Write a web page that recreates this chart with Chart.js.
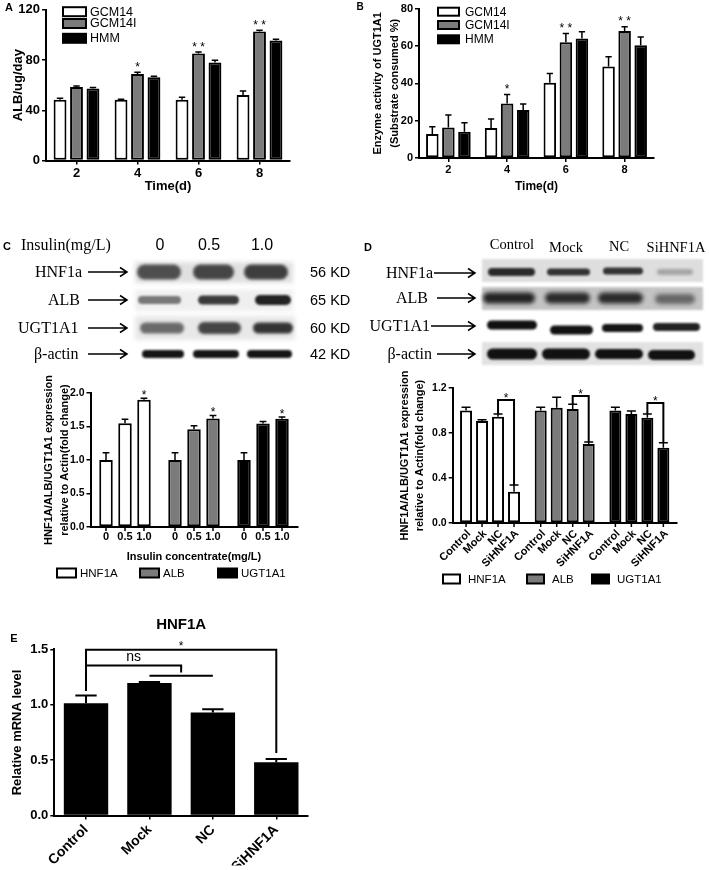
<!DOCTYPE html>
<html>
<head>
<meta charset="utf-8">
<title>HNF1A figure</title>
<script src="https://cdn.jsdelivr.net/npm/chart.js"></script>
<style>
  body { margin: 0; background: #fff; }
  #page { position: relative; width: 709px; height: 870px; overflow: hidden; background: #fff; }
  #page canvas { position: absolute; left: 0; top: 0; }
  .t { position: absolute; white-space: nowrap; color: #000; line-height: 1; }
  .serif { font-family: "Liberation Serif", "Times New Roman", serif; }
  .sans { font-family: "Liberation Sans", Arial, sans-serif; }
</style>
</head>
<body>
<div id="page">
  <canvas id="blots" width="709" height="870"></canvas>
  <canvas id="chartA" width="709" height="870"></canvas>
  <canvas id="chartB" width="709" height="870"></canvas>
  <canvas id="chartC" width="709" height="870"></canvas>
  <canvas id="chartD" width="709" height="870"></canvas>
  <canvas id="chartE" width="709" height="870"></canvas>
</div>
<script>
// ---- data ----
const days = ['2', '4', '6', '8'];
const albGCM14 = [48.3, 48.3, 48.3, 52.2];
const albGCM14Err = [1.2, 0.4, 2.0, 3.1];
const albGCM14I = [58.6, 68.9, 85.3, 102.8];
const albGCM14IErr = [0.8, 1.3, 1.0, 1.0];
const albHMM = [57.4, 66.3, 78.0, 95.5];
const albHMMErr = [0.8, 0.8, 1.8, 1.0];
const albStars = ['', '*', '* *', '* *'];

const ugtGCM14 = [12.8, 16.0, 40.3, 49.0];
const ugtGCM14Err = [4.0, 4.9, 5.0, 5.2];
const ugtGCM14I = [16.3, 29.2, 62.0, 68.0];
const ugtGCM14IErr = [6.7, 4.8, 4.6, 2.3];
const ugtHMM = [14.1, 25.7, 64.0, 60.4];
const ugtHMMErr = [4.8, 3.2, 3.6, 4.4];
const ugtStars = ['', '*', '* *', '* *'];

const proteins = ['HNF1A', 'ALB', 'UGT1A1'];
const doses = ['0', '0.5', '1.0'];
const insHNF1A = [1.0, 1.55, 1.90];
const insHNF1AErr = [0.11, 0.06, 0.02];
const insALB = [1.0, 1.46, 1.62];
const insALBErr = [0.11, 0.05, 0.045];
const insUGT1A1 = [1.0, 1.545, 1.615];
const insUGT1A1Err = [0.11, 0.03, 0.025];

const groups = ['Control', 'Mock', 'NC', 'SiHNF1A'];
const kdHNF1A = [1.0, 0.907, 0.945, 0.278];
const kdHNF1AErr = [0.03, 0.011, 0.025, 0.06];
const kdALB = [1.0, 1.025, 1.013, 0.702];
const kdALBErr = [0.03, 0.092, 0.042, 0.018];
const kdUGT1A1 = [1.0, 0.969, 0.936, 0.669];
const kdUGT1A1Err = [0.03, 0.027, 0.034, 0.045];
const kdBracket = [1.093, 1.129, 1.067];   // NC vs SiHNF1A bracket level

const mrna = [1.014, 1.195, 0.93, 0.481];
const mrnaErr = [0.07, 0.01, 0.03, 0.03];

// ---- setup ----
const F = '"Liberation Sans", Arial, sans-serif';
const GRAY = '#7b7b7b';
const W = 709, H = 870;
Chart.defaults.font.family = F;
Chart.defaults.color = '#000';
Chart.defaults.animation = false;
Chart.defaults.responsive = false;
Chart.defaults.plugins.legend.display = false;
Chart.defaults.plugins.tooltip.enabled = false;

// chart area [left, top, right, bottom] in page pixels
function place(a, yw, xh) {
  return { left: a[0] - yw, top: a[1], right: W - a[2], bottom: H - a[3] - xh };
}

function yAxis(o) {
  return {
    min: o.min, max: o.max,
    ticks: { stepSize: o.step, font: { size: o.fs, weight: 'bold' }, padding: 2,
             callback: o.fmt || (v => v) },
    grid: { drawOnChartArea: false, tickLength: 4, color: '#000', lineWidth: 1.5 },
    border: { color: '#000', width: 2 },
    title: { display: !!o.title, text: o.title || '', padding: 0,
             font: { size: o.tfs, weight: 'bold', lineHeight: o.tlh || 1.2 } },
    afterFit: s => { s.width = o.w; }
  };
}

function xAxis(o) {
  return {
    ticks: { display: o.ticks !== false, font: { size: o.fs, weight: 'bold' }, padding: o.pad || 1,
             minRotation: o.rot || 0, maxRotation: o.rot || 0 },
    grid: { display: o.grid !== false, offset: false, drawOnChartArea: false, tickLength: 4,
            color: '#000', lineWidth: 1.5 },
    border: { color: '#000', width: 2 },
    title: { display: !!o.title, text: o.title || '', padding: 0, font: { size: o.tfs, weight: 'bold' } },
    afterFit: s => { s.height = o.h; }
  };
}

function errTop(chart, i, j) {
  const ds = chart.data.datasets[i];
  return chart.scales.y.getPixelForValue(ds.data[j] + ds.errors[j]);
}

function errorBars(capFrac, lw) {
  return { id: 'errorBars', afterDatasetsDraw(chart) {
    const ctx = chart.ctx;
    ctx.save(); ctx.strokeStyle = '#000'; ctx.lineWidth = lw;
    chart.data.datasets.forEach((ds, i) => {
      chart.getDatasetMeta(i).data.forEach((bar, j) => {
        const top = errTop(chart, i, j);
        const half = bar.width * capFrac / 2;
        ctx.beginPath();
        ctx.moveTo(bar.x, bar.y); ctx.lineTo(bar.x, top);
        ctx.moveTo(bar.x - half, top); ctx.lineTo(bar.x + half, top);
        ctx.stroke();
      });
    });
    ctx.restore();
  }};
}

function stars(dsIndex, marks, fs, off) {
  return { id: 'stars', afterDatasetsDraw(chart) {
    const ctx = chart.ctx;
    ctx.save();
    ctx.font = fs + 'px ' + F; ctx.textAlign = 'center'; ctx.textBaseline = 'alphabetic'; ctx.fillStyle = '#000';
    chart.getDatasetMeta(dsIndex).data.forEach((bar, j) => {
      if (marks[j]) ctx.fillText(marks[j], bar.x, errTop(chart, dsIndex, j) - off + 0.58 * fs);
    });
    ctx.restore();
  }};
}

function boxLegend(items, o) {
  return { id: 'boxLegend', afterDraw(chart) {
    const ctx = chart.ctx;
    ctx.save();
    ctx.font = o.fs + 'px ' + F; ctx.textBaseline = 'middle'; ctx.textAlign = 'left';
    items.forEach((it, k) => {
      const [x, y] = o.pos[k];
      ctx.fillStyle = it.color; ctx.fillRect(x, y - o.bh / 2, o.bw, o.bh);
      ctx.strokeStyle = '#000'; ctx.lineWidth = 2; ctx.strokeRect(x, y - o.bh / 2, o.bw, o.bh);
      ctx.fillStyle = '#000'; ctx.fillText(it.label, x + o.bw + o.gap, y + 0.5);
    });
    ctx.restore();
  }};
}

// long two-line y titles: chart.js would squeeze them to the axis height
function sideTitle(lines, offs, fs) {
  return { id: 'sideTitle', afterDraw(chart) {
    const ctx = chart.ctx, a = chart.chartArea, yc = (a.top + a.bottom) / 2;
    ctx.save();
    ctx.font = 'bold ' + fs + 'px ' + F; ctx.fillStyle = '#000';
    ctx.textAlign = 'center'; ctx.textBaseline = 'middle';
    lines.forEach((s, k) => {
      ctx.save(); ctx.translate(a.left - offs[k], yc); ctx.rotate(-Math.PI / 2);
      ctx.fillText(s, 0, 0); ctx.restore();
    });
    ctx.restore();
  }};
}

const barColors = ['#fff', GRAY, '#000'];
function timeSet(label, data, errors, k) {
  return { label, data, errors, backgroundColor: barColors[k], borderColor: '#000', borderWidth: 2 };
}

// ---- A ----
const areaA = [46, 7.5, 290, 160.5];
new Chart(document.getElementById('chartA'), {
  type: 'bar',
  data: { labels: days, datasets: [
    timeSet('GCM14', albGCM14, albGCM14Err, 0),
    timeSet('GCM14I', albGCM14I, albGCM14IErr, 1),
    timeSet('HMM', albHMM, albHMMErr, 2)
  ]},
  options: {
    layout: { padding: place(areaA, 35, 33.5) },
    datasets: { bar: { categoryPercentage: 0.81, barPercentage: 0.78, borderSkipped: false } },
    scales: {
      x: xAxis({ fs: 13, title: 'Time(d)', tfs: 13, h: 33.5 }),
      y: yAxis({ min: 0, max: 120, step: 40, fs: 13, title: 'ALB/ug/day', tfs: 13, w: 35 })
    }
  },
  plugins: [errorBars(0.5, 1.5), stars(1, albStars, 12, 8.5),
    boxLegend([{ label: 'GCM14', color: '#fff' }, { label: 'GCM14I', color: GRAY }, { label: 'HMM', color: '#000' }],
      { fs: 12.5, bw: 23, bh: 9, gap: 4, pos: [[63, 11.7], [63, 23.5], [63, 38.3]] })]
});

// ---- B ----
const areaB = [419, 8, 654, 158];
new Chart(document.getElementById('chartB'), {
  type: 'bar',
  data: { labels: days, datasets: [
    timeSet('GCM14', ugtGCM14, ugtGCM14Err, 0),
    timeSet('GCM14I', ugtGCM14I, ugtGCM14IErr, 1),
    timeSet('HMM', ugtHMM, ugtHMMErr, 2)
  ]},
  options: {
    layout: { padding: place(areaB, 49.5, 35.7) },
    datasets: { bar: { categoryPercentage: 0.82, barPercentage: 0.78, borderSkipped: false } },
    scales: {
      x: xAxis({ fs: 11, title: 'Time(d)', tfs: 12, h: 35.7 }),
      y: yAxis({ min: 0, max: 80, step: 20, fs: 11, tfs: 11, tlh: 1.55, w: 49.5,
                 title: ['Enzyme activity of UGT1A1', '(Substrate consumed %)'] })
    }
  },
  plugins: [errorBars(0.5, 1.5), stars(1, ugtStars, 12, 8.5),
    boxLegend([{ label: 'GCM14', color: '#fff' }, { label: 'GCM14I', color: GRAY }, { label: 'HMM', color: '#000' }],
      { fs: 12, bw: 21, bh: 8, gap: 6, pos: [[438, 11.7], [438, 25], [438, 39.3]] })]
});

// ---- C ----
const insByProtein = [insHNF1A, insALB, insUGT1A1];
const insErrByProtein = [insHNF1AErr, insALBErr, insUGT1A1Err];
const legendItems = proteins.map((p, k) => ({ label: p, color: barColors[k] }));
const foldTitle = ['HNF1A/ALB/UGT1A1 expression', 'relative to Actin(fold change)'];

const subLabels = (rotate, fs, dy) => ({ id: 'subLabels', afterDraw(chart) {
  const ctx = chart.ctx, yb = chart.chartArea.bottom;
  ctx.save(); ctx.strokeStyle = '#000'; ctx.fillStyle = '#000'; ctx.lineWidth = 1.5;
  ctx.font = 'bold ' + fs + 'px ' + F;
  chart.data.datasets.forEach((ds, i) => {
    chart.getDatasetMeta(i).data.forEach(bar => {
      ctx.beginPath(); ctx.moveTo(bar.x, yb); ctx.lineTo(bar.x, yb + 4); ctx.stroke();
      ctx.save();
      if (rotate) {
        ctx.translate(bar.x + 3, yb + dy); ctx.rotate(-Math.PI / 4);
        ctx.textAlign = 'right'; ctx.textBaseline = 'middle';
      } else {
        ctx.translate(bar.x, yb + dy);
        ctx.textAlign = 'center'; ctx.textBaseline = 'middle';
      }
      ctx.fillText(ds.label, 0, 0);
      ctx.restore();
    });
  });
  ctx.restore();
}});

const areaC = [90.5, 393, 297.5, 527];
new Chart(document.getElementById('chartC'), {
  type: 'bar',
  data: { labels: proteins, datasets: doses.map((d, i) => ({
    label: d,
    data: insByProtein.map(arr => arr[i]),
    errors: insErrByProtein.map(arr => arr[i]),
    backgroundColor: barColors, borderColor: '#000', borderWidth: 2
  }))},
  options: {
    layout: { padding: place(areaC, 49.25, 36.6) },
    datasets: { bar: { categoryPercentage: 0.826, barPercentage: 0.71, borderSkipped: false } },
    scales: {
      x: xAxis({ ticks: false, grid: false, title: 'Insulin concentrate(mg/L)', tfs: 11, h: 36.6 }),
      y: yAxis({ min: 0, max: 2, step: 0.5, fs: 10.5, w: 49.25, fmt: v => v.toFixed(1) })
    }
  },
  plugins: [errorBars(0.5, 1.5), stars(2, ['*', '*', '*'], 12, 6), subLabels(false, 11, 10),
    sideTitle(foldTitle, [41.5, 26], 11),
    boxLegend(legendItems, { fs: 11.5, bw: 19, bh: 9, gap: 4, pos: [[57, 573], [140, 573], [218, 573]] })]
});

// ---- D ----
const kdByProtein = [kdHNF1A, kdALB, kdUGT1A1];
const kdErrByProtein = [kdHNF1AErr, kdALBErr, kdUGT1A1Err];

const kdBrackets = { id: 'kdBrackets', afterDatasetsDraw(chart) {
  const ctx = chart.ctx, ys = chart.scales.y;
  const nc = chart.getDatasetMeta(2).data, si = chart.getDatasetMeta(3).data;
  ctx.save(); ctx.strokeStyle = '#000'; ctx.fillStyle = '#000'; ctx.lineWidth = 2;
  ctx.font = '12px ' + F; ctx.textAlign = 'center'; ctx.textBaseline = 'alphabetic';
  kdBracket.forEach((lvl, j) => {
    const y = ys.getPixelForValue(lvl);
    ctx.beginPath();
    ctx.moveTo(nc[j].x, errTop(chart, 2, j)); ctx.lineTo(nc[j].x, y);
    ctx.lineTo(si[j].x, y); ctx.lineTo(si[j].x, errTop(chart, 3, j));
    ctx.stroke();
    ctx.fillText('*', (nc[j].x + si[j].x) / 2, y - 5 + 0.58 * 12);
  });
  ctx.restore();
}};

const areaD = [452.7, 388, 676.7, 523];
new Chart(document.getElementById('chartD'), {
  type: 'bar',
  data: { labels: proteins, datasets: groups.map((g, i) => ({
    label: g,
    data: kdByProtein.map(arr => arr[i]),
    errors: kdErrByProtein.map(arr => arr[i]),
    backgroundColor: barColors, borderColor: '#000', borderWidth: 2
  }))},
  options: {
    layout: { padding: place(areaD, 55.2, 10) },
    datasets: { bar: { categoryPercentage: 0.857, barPercentage: 0.75, borderSkipped: false } },
    scales: {
      x: xAxis({ ticks: false, grid: false, h: 10 }),
      y: yAxis({ min: 0, max: 1.2, step: 0.4, fs: 10.5, w: 55.2, fmt: v => v.toFixed(1) })
    }
  },
  plugins: [errorBars(0.75, 1.5), kdBrackets, subLabels(true, 11, 9),
    sideTitle(foldTitle, [47.7, 32.7], 11),
    boxLegend(legendItems, { fs: 11.5, bw: 17, bh: 9, gap: 8, pos: [[443, 579], [527, 579], [592, 579]] })]
});

// ---- E ----
const mrnaBrackets = { id: 'mrnaBrackets', afterDatasetsDraw(chart) {
  const ctx = chart.ctx, ys = chart.scales.y, b = chart.getDatasetMeta(0).data;
  const py = v => ys.getPixelForValue(v);
  ctx.save(); ctx.strokeStyle = '#000'; ctx.fillStyle = '#000'; ctx.lineWidth = 2;
  // Control vs SiHNF1A
  const top = py(1.497);
  ctx.beginPath();
  ctx.moveTo(b[0].x, py(1.125)); ctx.lineTo(b[0].x, top);
  ctx.lineTo(b[3].x, top); ctx.lineTo(b[3].x, py(0.565));
  // Control vs Mock / NC
  const mid = (b[1].x + b[2].x) / 2, ns = py(1.355);
  ctx.moveTo(b[0].x, ns); ctx.lineTo(mid, ns); ctx.lineTo(mid, py(1.29));
  ctx.moveTo(b[1].x, py(1.262)); ctx.lineTo(b[2].x, py(1.262));
  ctx.stroke();
  ctx.textAlign = 'center'; ctx.textBaseline = 'alphabetic';
  ctx.font = '12px ' + F;
  ctx.fillText('*', (b[0].x + b[3].x) / 2, top - 7 + 0.58 * 12);
  ctx.font = '14px ' + F;
  ctx.fillText('ns', (b[0].x + mid) / 2, py(1.355) - 4);
  ctx.restore();
}};

const areaE = [54.3, 649.3, 308, 815.6];
new Chart(document.getElementById('chartE'), {
  type: 'bar',
  data: { labels: groups, datasets: [{
    label: 'HNF1A', data: mrna, errors: mrnaErr,
    backgroundColor: '#000', borderColor: '#000', borderWidth: 0
  }]},
  options: {
    layout: { padding: { left: areaE[0] - 44.6, top: 616, right: W - areaE[2], bottom: H - areaE[3] - 50 } },
    datasets: { bar: { categoryPercentage: 1, barPercentage: 0.70 } },
    plugins: {
      title: { display: true, text: 'HNF1A', fullSize: false, color: '#000',
               font: { size: 15, weight: 'bold', lineHeight: 1.2 }, padding: { top: 0, bottom: 15.3 } }
    },
    scales: {
      x: xAxis({ fs: 14, rot: 45, h: 50, pad: 2 }),
      y: yAxis({ min: 0, max: 1.5, step: 0.5, fs: 13, title: 'Relative mRNA level', tfs: 13, w: 44.6,
                 fmt: v => v.toFixed(1) })
    }
  },
  plugins: [errorBars(0.48, 2), mrnaBrackets]
});

// ---- western blots (drawn, not data) ----
function drawBlots() {
  const c = document.getElementById('blots').getContext('2d');
  const fillBox = (x0, y0, x1, y1, col, blur) => {
    c.filter = 'blur(' + blur + 'px)'; c.fillStyle = col; c.fillRect(x0, y0, x1 - x0, y1 - y0);
  };
  const band = (x0, x1, yc, h, col, blur) => {
    c.filter = 'blur(' + blur + 'px)'; c.fillStyle = col; c.beginPath();
    c.roundRect(x0, yc - h / 2, x1 - x0, h, h / 2); c.fill();
  };
  const arrow = (x0, x1, y) => {
    c.filter = 'none'; c.strokeStyle = '#000'; c.lineWidth = 1.5;
    c.beginPath(); c.moveTo(x0, y); c.lineTo(x1, y);
    c.moveTo(x1 - 7, y - 4.5); c.lineTo(x1, y); c.lineTo(x1 - 7, y + 4.5); c.stroke();
  };
  // panel C
  fillBox(135, 262, 293, 283, '#e0e0e0', 2);
  band(137, 181, 272, 15, '#4e4e4e', 1.5); band(193, 234, 272, 15, '#454545', 1.5); band(244, 288, 272, 15, '#3e3e3e', 1.5);
  fillBox(135, 290, 293, 311, '#efefef', 2);
  band(138, 181, 300, 8, '#777', 1.2); band(198, 239, 300, 9, '#3a3a3a', 1.2); band(255, 291, 300, 10, '#222', 1.2);
  fillBox(135, 316, 295, 340, '#e8e8e8', 2);
  band(140, 184, 328, 11, '#6a6a6a', 1.5); band(198, 241, 328, 12, '#444', 1.5); band(253, 293, 328, 11, '#333', 1.5);
  band(142, 184, 354, 8, '#151515', 1); band(193, 239, 354, 8, '#151515', 1); band(247, 292, 354, 8, '#151515', 1);
  arrow(88, 127, 272); arrow(88, 127, 300); arrow(88, 127, 328); arrow(88, 127, 354);
  // panel D
  fillBox(482, 259, 703, 282, '#dedede', 0.8);
  band(488, 535, 272, 8, '#2a2a2a', 1.2); band(547, 590, 272, 7, '#333', 1.2);
  band(603, 643, 271, 7, '#333', 1.2); band(657, 693, 272, 6, '#a5a5a5', 1.5);
  fillBox(482, 287, 703, 310, '#c4c4c4', 0.8);
  band(483, 535, 298, 11, '#222', 2); band(545, 590, 298, 11, '#2a2a2a', 2);
  band(598, 643, 298, 11, '#2a2a2a', 2); band(655, 695, 299, 10, '#666', 2);
  band(487, 537, 325, 9, '#111', 1.2); band(550, 593, 330, 9, '#111', 1.2);
  band(602, 643, 328, 8, '#151515', 1.2); band(653, 700, 327, 8, '#222', 1.2);
  fillBox(482, 342, 703, 365, '#e2e2e2', 0.8);
  band(487, 537, 354, 11, '#111', 1.2); band(542, 590, 354, 11, '#111', 1.2);
  band(595, 643, 354, 10, '#111', 1.2); band(648, 695, 355, 10, '#111', 1.2);
  arrow(434, 475, 273); arrow(437, 475, 298); arrow(431, 475, 326); arrow(437, 475, 354);
}
drawBlots();

// ---- text outside the charts ----
const page = document.getElementById('page');
function txt(s, x, y, cls, size, align, weight) {
  const d = document.createElement('div');
  d.className = 't ' + cls;
  d.textContent = s;
  d.style.fontSize = size + 'px';
  d.style.left = x + 'px';
  d.style.top = y + 'px';
  const tx = align === 'right' ? '-100%' : align === 'center' ? '-50%' : '0';
  d.style.transform = 'translate(' + tx + ',-50%)';
  if (weight) d.style.fontWeight = weight;
  page.appendChild(d);
}
txt('A', 9, 7, 'sans', 11, 'center', 'bold');
txt('B', 360, 7, 'sans', 10, 'center', 'bold');
txt('C', 7, 246, 'sans', 11, 'center', 'bold');
txt('D', 368, 247, 'sans', 11, 'center', 'bold');
txt('E', 14, 638, 'sans', 11, 'center', 'bold');

txt('Insulin(mg/L)', 21, 245, 'serif', 16, 'left');
txt('0', 160, 245, 'sans', 16, 'center');
txt('0.5', 209, 245, 'sans', 16, 'center');
txt('1.0', 262, 245, 'sans', 16, 'center');
txt('HNF1a', 82, 272, 'serif', 16, 'right');
txt('ALB', 80, 300, 'serif', 16, 'right');
txt('UGT1A1', 78.5, 328, 'serif', 16, 'right');
txt('\u03b2-actin', 78.5, 354, 'serif', 16, 'right');
txt('56 KD', 310, 272, 'sans', 14.5, 'left');
txt('65 KD', 310, 300, 'sans', 14.5, 'left');
txt('60 KD', 310, 328, 'sans', 14.5, 'left');
txt('42 KD', 310, 354, 'sans', 14.5, 'left');

txt('Control', 512, 244, 'serif', 14.5, 'center');
txt('Mock', 566, 247, 'serif', 14.5, 'center');
txt('NC', 619, 246, 'serif', 14.5, 'center');
txt('SiHNF1A', 676, 247, 'serif', 14.5, 'center');
txt('HNF1a', 433, 273, 'serif', 16, 'right');
txt('ALB', 428, 298, 'serif', 16, 'right');
txt('UGT1A1', 430, 326, 'serif', 16, 'right');
txt('\u03b2-actin', 432, 354, 'serif', 16, 'right');
</script>
</body>
</html>
